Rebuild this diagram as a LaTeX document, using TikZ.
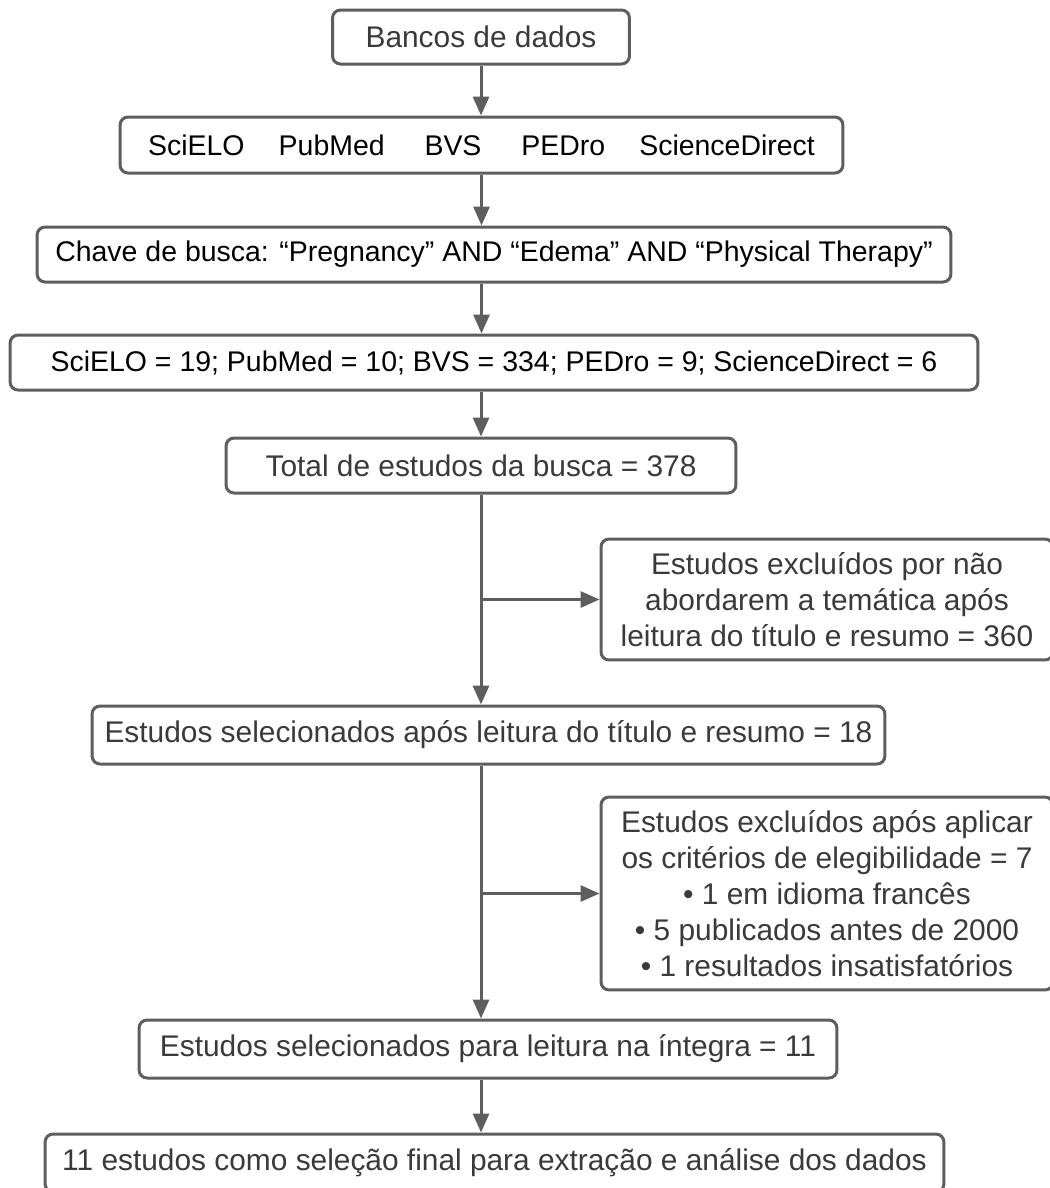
\documentclass[tikz,border=0pt]{standalone}
\usepackage{fontspec}
\setmainfont{Liberation Sans}
\usetikzlibrary{arrows.meta}
\definecolor{linha}{HTML}{5E5E5E}
\definecolor{texto}{HTML}{3A3A3A}

\begin{document}
\begin{tikzpicture}[x=0.02cm,y=-0.02cm,
  caixa/.style={draw=linha,line width=0.06cm,rounded corners=0.16cm,fill=white,
    text=texto,align=center,inner sep=0pt,font=\fontsize{17}{20.5}\selectfont},
  base/.style={caixa,text=black,font=\fontsize{16.2}{20}\selectfont},
  flecha/.style={draw=linha,line width=0.06cm,-{Triangle[length=0.38cm,width=0.32cm]}}]
  \useasboundingbox (0,0) rectangle (1050,1188);
  % caixas
  \node[caixa,minimum width=5.94cm,minimum height=1.08cm] (bancos) at (481,37) {Bancos de dados};
  \node[base,minimum width=14.46cm,minimum height=1.12cm] (bases) at (481.5,145)
    {SciELO\hspace{1.2em}PubMed\hspace{1.4em}BVS\hspace{1.4em}PEDro\hspace{1.2em}ScienceDirect};
  \node[base,minimum width=18.28cm,minimum height=1.1cm] (chave) at (494,254.5)
    {Chave de busca: “Pregnancy” AND “Edema” AND “Physical Therapy”};
  \node[base,minimum width=19.36cm,minimum height=1.1cm] (resultados) at (494,362.5)
    {SciELO = 19; PubMed = 10; BVS = 334; PEDro = 9; ScienceDirect = 6};
  \node[caixa,minimum width=10.2cm,minimum height=1.1cm] (total) at (481,465.5)
    {Total de estudos da busca = 378};
  \node[caixa,minimum width=9.04cm,minimum height=2.42cm] (excl1) at (827,599.5)
    {Estudos excluídos por não\\abordarem a temática após\\leitura do título e resumo = 360};
  \node[caixa,minimum width=15.86cm,minimum height=1.16cm] (selec) at (488.5,735)
    {Estudos selecionados após leitura do título e resumo = 18};
  \node[caixa,minimum width=9.04cm,minimum height=3.86cm] (excl2) at (827,893.5)
    {Estudos excluídos após aplicar\\os critérios de elegibilidade = 7\\• 1 em idioma francês\\
     • 5 publicados antes de 2000\\• 1 resultados insatisfatórios};
  \node[caixa,minimum width=13.96cm,minimum height=1.16cm] (leitura) at (488,1049)
    {Estudos selecionados para leitura na íntegra = 11};
  \node[caixa,minimum width=17.98cm,minimum height=1.16cm] (final) at (494.5,1163)
    {11 estudos como seleção final para extração e análise dos dados};
  % setas
  \draw[flecha] (bancos.south) -- (bancos.south |- bases.north);
  \draw[flecha] (bases.south) -- (bases.south |- chave.north);
  \draw[flecha] (bases.south |- chave.south) -- (bases.south |- resultados.north);
  \draw[flecha] (total.south |- resultados.south) -- (total.north);
  \draw[flecha] (total.south) -- (total.south |- selec.north);
  \coordinate (ramo1) at (total.south |- excl1.west);
  \draw[flecha] (ramo1) -- (excl1.west);
  \draw[flecha] (total.south |- selec.south) -- (total.south |- leitura.north);
  \coordinate (ramo2) at (total.south |- excl2.west);
  \draw[flecha] (ramo2) -- (excl2.west);
  \draw[flecha] (total.south |- leitura.south) -- (total.south |- final.north);
\end{tikzpicture}
\end{document}
